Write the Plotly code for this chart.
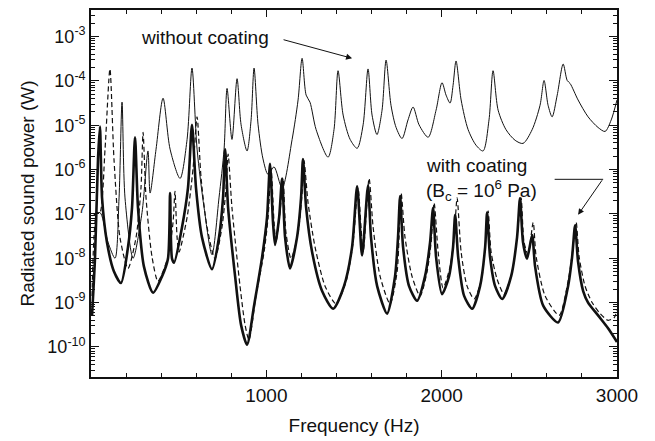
import plotly.graph_objects as go

# ---- data (frequency in Hz, log10 of radiated power in W) ----
uncoated_freq = [10, 51, 97, 137, 160, 177, 194, 240, 291, 325,
                 337, 371, 411, 451, 508, 548, 576, 605, 645, 690,
                 730, 759, 776, 804, 833, 856, 890, 913, 930, 953,
                 981, 1010, 1044, 1090, 1147, 1181, 1204, 1227, 1249, 1284,
                 1352, 1386, 1409, 1438, 1478, 1518, 1552, 1580, 1603, 1631,
                 1660, 1683, 1711, 1740, 1774, 1808, 1837, 1871, 1923, 1968,
                 2002, 2025, 2048, 2065, 2082, 2111, 2151, 2196, 2236, 2270,
                 2293, 2322, 2367, 2419, 2464, 2516, 2561, 2584, 2607, 2630,
                 2659, 2693, 2716, 2733, 2778, 2835, 2892, 2932, 2967, 3000]
uncoated_logp = [-7.04, -6.97, -7.64, -8.00, -6.64, -4.48, -6.64, -8.00, -6.97, -5.58,
                 -6.53, -5.54, -4.39, -5.54, -6.20, -5.32, -3.71, -5.54, -6.86, -7.92,
                 -6.64, -5.54, -4.17, -5.32, -3.95, -4.99, -5.58, -4.88, -3.71, -4.99,
                 -5.76, -6.11, -5.94, -6.42, -5.32, -4.43, -3.49, -4.32, -4.48, -5.10,
                 -5.72, -5.10, -3.77, -4.77, -5.32, -5.52, -4.99, -3.73, -4.77, -5.21,
                 -4.66, -3.53, -4.55, -5.05, -5.30, -4.88, -4.59, -4.99, -5.27, -4.66,
                 -4.04, -4.32, -4.50, -4.10, -3.55, -4.43, -5.10, -5.45, -5.58, -4.88,
                 -3.77, -4.66, -5.10, -5.34, -5.41, -5.10, -4.55, -3.99, -4.55, -4.81,
                 -4.32, -3.62, -3.99, -4.06, -4.43, -4.81, -5.05, -5.14, -4.88, -4.43]

coated_freq = [6, 23, 40, 51, 63, 91, 131, 171, 211, 234,
               251, 268, 302, 354, 405, 439, 451, 462, 474, 519,
               553, 576, 599, 633, 690, 730, 753, 765, 782, 822,
               856, 890, 930, 976, 1004, 1021, 1038, 1050, 1073, 1090,
               1107, 1135, 1175, 1198, 1209, 1227, 1261, 1318, 1381, 1443,
               1489, 1518, 1546, 1580, 1597, 1632, 1689, 1734, 1751, 1763,
               1780, 1814, 1860, 1905, 1934, 1951, 1968, 2002, 2042, 2065,
               2077, 2094, 2128, 2174, 2219, 2248, 2259, 2276, 2305, 2345,
               2396, 2430, 2447, 2464, 2487, 2516, 2533, 2579, 2664, 2721,
               2744, 2761, 2778, 2807, 2835, 2892, 2949, 3000]
coated_logp = [-9.29, -7.97, -5.76, -5.03, -6.64, -7.64, -8.30, -8.56, -7.75, -6.86,
               -5.27, -6.86, -8.19, -8.78, -8.41, -8.01, -6.53, -8.01, -8.10, -7.30,
               -6.42, -4.99, -6.42, -7.53, -8.25, -7.53, -6.64, -5.54, -6.86, -8.41,
               -9.51, -9.95, -9.07, -7.97, -7.08, -5.87, -7.19, -7.70, -7.08, -6.20,
               -7.53, -8.23, -7.53, -6.64, -5.76, -6.86, -7.86, -8.74, -9.14, -8.63,
               -7.75, -6.38, -7.94, -6.36, -7.53, -8.63, -9.25, -8.41, -7.53, -6.60,
               -7.75, -8.63, -8.96, -8.41, -7.64, -6.86, -7.97, -8.81, -8.41, -7.75,
               -7.02, -7.97, -8.85, -9.14, -8.63, -7.75, -6.97, -7.97, -8.63, -8.92,
               -8.41, -7.53, -6.64, -7.64, -8.01, -7.48, -8.19, -9.07, -9.45, -8.63,
               -7.97, -7.26, -8.08, -8.74, -9.00, -9.29, -9.58, -9.89]

coated_dashed_freq = [6, 34, 51, 80, 108, 131, 165, 211, 257, 285,
                      297, 314, 348, 382, 439, 468, 479, 491, 502, 548,
                      582, 605, 628, 662, 707, 747, 770, 782, 804, 850,
                      879, 901, 941, 987, 1010, 1027, 1044, 1055, 1078, 1095,
                      1112, 1141, 1181, 1204, 1215, 1238, 1278, 1335, 1398, 1455,
                      1495, 1523, 1552, 1586, 1609, 1649, 1706, 1746, 1757, 1769,
                      1791, 1831, 1877, 1917, 1940, 1957, 1980, 2008, 2048, 2071,
                      2088, 2111, 2145, 2185, 2225, 2248, 2265, 2282, 2316, 2356,
                      2402, 2430, 2453, 2470, 2493, 2522, 2539, 2590, 2670, 2721,
                      2744, 2767, 2784, 2818, 2858, 2904, 2949, 2984, 3000]
coated_dashed_logp = [-8.85, -6.97, -6.97, -5.54, -3.73, -5.76, -7.53, -8.23, -7.53, -6.42,
                      -5.16, -6.64, -7.97, -8.52, -7.97, -7.19, -6.49, -7.53, -7.86, -7.08,
                      -5.98, -4.81, -6.20, -7.30, -8.01, -7.30, -6.42, -5.65, -6.86, -8.63,
                      -9.51, -9.84, -8.85, -7.86, -7.08, -5.98, -7.19, -7.64, -6.97, -6.20,
                      -7.42, -8.01, -7.42, -6.53, -5.80, -6.75, -7.75, -8.63, -9.03, -8.52,
                      -7.64, -6.42, -7.86, -6.20, -7.30, -8.41, -9.03, -8.30, -7.53, -6.53,
                      -7.53, -8.41, -8.85, -8.30, -7.64, -6.75, -7.86, -8.67, -8.19, -7.53,
                      -6.64, -7.86, -8.63, -8.92, -8.52, -7.75, -6.93, -7.86, -8.47, -8.81,
                      -8.30, -7.53, -6.64, -7.64, -7.92, -7.19, -7.97, -8.85, -9.29, -8.52,
                      -7.92, -7.19, -7.97, -8.63, -9.00, -9.25, -9.40, -9.34, -9.18]

x_tick_vals = [1000, 2000, 3000]
x_tick_text = ["1000", "2000", "3000"]
y_tick_exponents = [-10, -9, -8, -7, -6, -5, -4, -3]

def to_watts(logs):
    return [10 ** v for v in logs]

ink = "#111111"
fig = go.Figure()
fig.add_trace(go.Scatter(x=uncoated_freq, y=to_watts(uncoated_logp), mode="lines",
                         line=dict(color=ink, width=1.0, shape="spline", smoothing=0.8),
                         name="without coating"))
fig.add_trace(go.Scatter(x=coated_dashed_freq, y=to_watts(coated_dashed_logp), mode="lines",
                         line=dict(color=ink, width=1.2, dash="5px,3px", shape="spline", smoothing=0.7),
                         name="with coating (dashed)"))
fig.add_trace(go.Scatter(x=coated_freq, y=to_watts(coated_logp), mode="lines",
                         line=dict(color=ink, width=2.6, shape="spline", smoothing=0.7),
                         name="with coating"))

fnt = dict(family="Liberation Sans, Arial, Helvetica, sans-serif", color=ink)

fig.update_layout(
    width=655, height=441,
    margin=dict(l=91, r=38, t=8, b=58),
    paper_bgcolor="white", plot_bgcolor="white",
    showlegend=False,
    font=dict(size=19, **fnt),
    xaxis=dict(range=[0, 3000], tickmode="array", tickvals=x_tick_vals, ticktext=x_tick_text,
               ticks="inside", ticklen=7, tickwidth=1.2, tickcolor=ink,
               minor=dict(tickmode="linear", tick0=0, dtick=200, ticks="inside", ticklen=4,
                          tickcolor=ink, showgrid=False),
               showline=True, linecolor=ink, linewidth=1.6, mirror="allticks",
               showgrid=False, zeroline=False, tickfont=dict(size=19, **fnt),
               title=dict(text="Frequency (Hz)", font=dict(size=19, **fnt), standoff=14)),
    yaxis=dict(type="log", range=[-10.68, -2.40], tickmode="array",
               tickvals=[10 ** e for e in y_tick_exponents],
               ticktext=["10<sup>%d</sup>" % e for e in y_tick_exponents],
               ticks="inside", ticklen=8, tickwidth=1.2, tickcolor=ink,
               minor=dict(dtick="D1", ticks="inside", ticklen=4, tickcolor=ink, showgrid=False),
               showline=True, linecolor=ink, linewidth=1.6, mirror="allticks",
               showgrid=False, zeroline=False, tickfont=dict(size=18, **fnt),
               title=dict(text="Radiated sound power (W)", font=dict(size=19, **fnt), standoff=8)),
)

fig.add_annotation(x=650, y=-3.02, text="without coating", showarrow=False,
                   font=dict(size=19, **fnt))
fig.add_annotation(x=1489, y=-3.49, text="", showarrow=True, arrowhead=2, arrowsize=1.2,
                   arrowwidth=1, arrowcolor=ink, ax=-70, ay=-19)
fig.add_annotation(x=2196, y=-5.91, text="with coating", showarrow=False,
                   font=dict(size=19, **fnt))
fig.add_annotation(x=2225, y=-6.47, text="(B<sub>c</sub> = 10<sup>6</sup> Pa)", showarrow=False,
                   font=dict(size=19, **fnt))
fig.add_annotation(x=2921, y=-6.22, text="", showarrow=True, arrowhead=0,
                   arrowwidth=1, arrowcolor=ink, ax=-50, ay=0)
fig.add_annotation(x=2778, y=-7.02, text="", showarrow=True, arrowhead=2, arrowsize=1.2,
                   arrowwidth=1, arrowcolor=ink, ax=25, ay=-36)

fig.write_html("out.html")
